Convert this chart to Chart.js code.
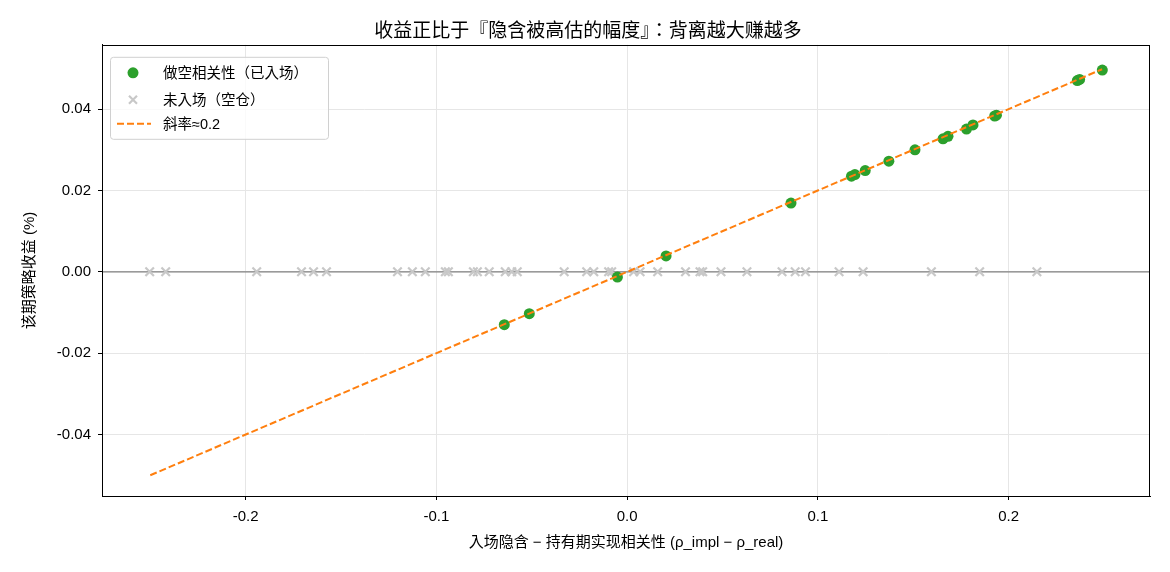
<!DOCTYPE html>
<html lang="zh-TW">
<head>
<meta charset="utf-8">
<script src="https://cdn.jsdelivr.net/npm/chart.js@4/dist/chart.umd.min.js"></script>
<style>
  html, body { margin: 0; padding: 0; background: #fff; }
  #wrap { width: 1170px; height: 572px; }
</style>
</head>
<body>
<div id="wrap"><canvas id="scatterChart" width="1170" height="572"></canvas></div>
<script>
// entered trades: implied - realised correlation gap vs period return (%)
const enteredGap = [-0.0644, -0.0513, -0.0051, 0.0204, 0.0859, 0.1176, 0.1194, 0.1248, 0.1372, 0.1509,
                    0.1656, 0.1682, 0.1779, 0.1813, 0.1927, 0.1936, 0.2360, 0.2372, 0.2491];
const enteredReturn = [-0.0130, -0.0103, -0.0013, 0.0039, 0.0169, 0.0235, 0.0239, 0.0249, 0.0272, 0.0300,
                       0.0327, 0.0333, 0.0351, 0.0361, 0.0383, 0.0385, 0.0470, 0.0473, 0.0496];

// periods without a position (flat)
const idleGap = [-0.2503, -0.2419, -0.1942, -0.1707, -0.1644, -0.1576, -0.1204, -0.1126, -0.1058, -0.0953,
                 -0.0937, -0.0806, -0.0785, -0.0723, -0.0639, -0.0605, -0.0576, -0.0330, -0.0212, -0.0175,
                 -0.0097, -0.0081, 0.0034, 0.0068, 0.0160, 0.0306, 0.0382, 0.0396, 0.0492, 0.0628,
                 0.0812, 0.0881, 0.0935, 0.1111, 0.1237, 0.1595, 0.1848, 0.2148];
const idleReturn = [0, 0, 0, 0, 0, 0, 0, 0, 0, 0,
                    0, 0, 0, 0, 0, 0, 0, 0, 0, 0,
                    0, 0, 0, 0, 0, 0, 0, 0, 0, 0,
                    0, 0, 0, 0, 0, 0, 0, 0];

// fitted line, slope about 0.2
const fitGap = [-0.25, 0.249];
const fitReturn = [-0.0500, 0.0498];

const xTicks = [-0.2, -0.1, 0.0, 0.1, 0.2];
const yTicks = [-0.04, -0.02, 0.00, 0.02, 0.04];

const labels = ['做空相关性（已入场）', '未入场（空仓）', '斜率≈0.2'];

const FONT = '"Liberation Sans", Arial, "Noto Sans CJK TC", sans-serif';

function toPoints(xs, ys) {
    return xs.map((x, i) => ({ x: x, y: ys[i] }));
}

// grey zero line + black frame around the plot
const framePlugin = {
    id: 'frame',
    beforeDatasetsDraw(chart) {
        const { ctx, chartArea, scales } = chart;
        const y0 = scales.y.getPixelForValue(0);
        ctx.save();
        ctx.strokeStyle = '#808080';
        ctx.lineWidth = 1.2;
        ctx.beginPath();
        ctx.moveTo(chartArea.left, y0);
        ctx.lineTo(chartArea.right, y0);
        ctx.stroke();
        ctx.restore();
    },
    afterDraw(chart) {
        const { ctx, chartArea } = chart;
        ctx.save();
        ctx.strokeStyle = '#000';
        ctx.lineWidth = 1;
        ctx.strokeRect(Math.round(chartArea.left) + 0.5, Math.round(chartArea.top) + 0.5,
            Math.round(chartArea.right - chartArea.left) - 1, Math.round(chartArea.bottom - chartArea.top));
        ctx.restore();
    }
};

// matplotlib-like legend box inside the plot, upper left
const legendPlugin = {
    id: 'boxLegend',
    afterDraw(chart) {
        const { ctx, chartArea } = chart;
        const x = chartArea.left + 8, y = chartArea.top + 12;
        const w = 218, h = 82;
        ctx.save();
        ctx.fillStyle = 'rgba(255,255,255,0.8)';
        ctx.strokeStyle = '#d0d0d0';
        ctx.lineWidth = 1;
        ctx.beginPath();
        ctx.roundRect(x + 0.5, y + 0.5, w, h, 3);
        ctx.fill();
        ctx.stroke();

        const mx = x + 23, tx = x + 53;
        const rows = [y + 16, y + 43, y + 67];
        ctx.font = '14.5px ' + FONT;
        ctx.fillStyle = '#000';
        ctx.textBaseline = 'middle';
        labels.forEach((t, i) => ctx.fillText(t, tx, rows[i] + 1));

        // green dot
        ctx.fillStyle = '#2ca02c';
        ctx.beginPath();
        ctx.arc(mx, rows[0], 5.5, 0, Math.PI * 2);
        ctx.fill();

        // grey x
        ctx.strokeStyle = '#c8c8c8';
        ctx.lineWidth = 2.2;
        ctx.beginPath();
        ctx.moveTo(mx - 4, rows[1] - 4); ctx.lineTo(mx + 4, rows[1] + 4);
        ctx.moveTo(mx + 4, rows[1] - 4); ctx.lineTo(mx - 4, rows[1] + 4);
        ctx.stroke();

        // orange dashed
        ctx.strokeStyle = '#ff7f0e';
        ctx.lineWidth = 2;
        ctx.setLineDash([7, 3]);
        ctx.beginPath();
        ctx.moveTo(x + 7, rows[2]);
        ctx.lineTo(x + 41, rows[2]);
        ctx.stroke();
        ctx.restore();
    }
};

const ctx = document.getElementById('scatterChart').getContext('2d');
const chart = new Chart(ctx, {
    type: 'scatter',
    data: {
        datasets: [
            {
                type: 'line',
                label: labels[2],
                data: toPoints(fitGap, fitReturn),
                borderColor: '#ff7f0e',
                borderWidth: 2,
                borderDash: [7, 3],
                pointRadius: 0,
                fill: false,
                order: 0
            },
            {
                label: labels[0],
                data: toPoints(enteredGap, enteredReturn),
                backgroundColor: '#2ca02c',
                borderColor: '#2ca02c',
                borderWidth: 0,
                pointRadius: 5.5,
                order: 1
            },
            {
                label: labels[1],
                data: toPoints(idleGap, idleReturn),
                pointStyle: 'crossRot',
                borderColor: '#c8c8c8',
                borderWidth: 2.2,
                pointRadius: 6,
                order: 2
            }
        ]
    },
    options: {
        responsive: false,
        animation: false,
        // left padding shifts the title centre to match the figure centre
        layout: { padding: { left: 26, right: 20, top: 0, bottom: 0 } },
        plugins: {
            legend: { display: false },
            tooltip: { enabled: false },
            title: {
                display: true,
                text: '收益正比于『隐含被高估的幅度』：背离越大赚越多',
                color: '#000',
                font: { family: FONT, size: 19, weight: 'normal' },
                padding: { top: 20, bottom: 2 }
            }
        },
        scales: {
            x: {
                type: 'linear',
                min: -0.2753,
                max: 0.2741,
                afterBuildTicks: (scale) => { scale.ticks = xTicks.map(v => ({ value: v })); },
                afterFit: (scale) => { scale.height = 76; },
                ticks: {
                    color: '#000',
                    padding: 8,
                    font: { family: FONT, size: 15 },
                    callback: (v) => Number(v).toFixed(1)
                },
                grid: { color: '#e6e6e6', tickColor: '#000', tickLength: 4, lineWidth: 1 },
                border: { display: true, color: '#000', width: 1 },
                title: {
                    display: true,
                    text: '入场隐含 − 持有期实现相关性 (ρ_impl − ρ_real)',
                    color: '#000',
                    font: { family: FONT, size: 15 },
                    padding: { top: 0, bottom: 20 }
                }
            },
            y: {
                type: 'linear',
                min: -0.0551,
                max: 0.0558,
                afterBuildTicks: (scale) => { scale.ticks = yTicks.map(v => ({ value: v })); },
                afterFit: (scale) => { scale.width = 76; },
                ticks: {
                    color: '#000',
                    padding: 7,
                    font: { family: FONT, size: 15 },
                    callback: (v) => Number(v).toFixed(2)
                },
                grid: { color: '#e6e6e6', tickColor: '#000', tickLength: 4, lineWidth: 1 },
                border: { display: true, color: '#000', width: 1 },
                title: {
                    display: true,
                    text: '该期策略收益 (%)',
                    color: '#000',
                    font: { family: FONT, size: 15 },
                    padding: { top: -5, bottom: 0 }
                }
            }
        }
    },
    plugins: [framePlugin, legendPlugin]
});
</script>
</body>
</html>
